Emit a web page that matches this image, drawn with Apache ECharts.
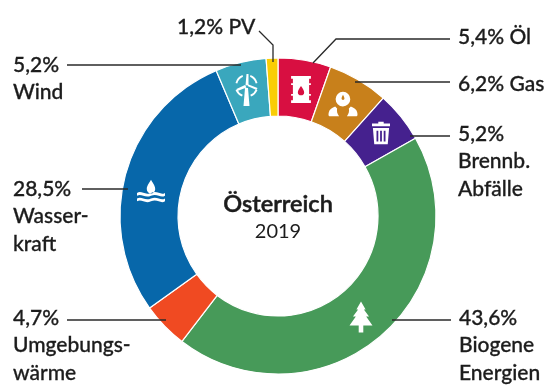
<!DOCTYPE html>
<html>
<head>
<meta charset="utf-8">
<style>html,body{margin:0;padding:0;background:#fff}#c{width:550px;height:385px}</style>
<script src="https://cdn.jsdelivr.net/npm/echarts@6/dist/echarts.min.js"></script>
</head>
<body>
<div id="c"></div>
<script>
// Energy sources, clockwise from twelve o'clock
const categories = ['Öl', 'Gas', 'Brennb. Abfälle', 'Biogene Energien', 'Umgebungswärme', 'Wasserkraft', 'Wind', 'PV'];
const shares = [5.4, 6.2, 5.2, 43.6, 4.7, 28.5, 5.2, 1.2];
const shareLabels = ['5,4%', '6,2%', '5,2%', '43,6%', '4,7%', '28,5%', '5,2%', '1,2%'];
const sliceColors = ['#d80f41', '#c8801b', '#45218e', '#479a59', '#f04a22', '#0767aa', '#3aa7bd', '#f9cd05'];

const cx = 278, cy = 216, outerR = 158, innerR = 100;
const font = 'Lato, "Open Sans", sans-serif';
const ink = '#1c1c1c';

// Callout placement: text lines and leader polyline per category index
const callouts = [
  { x: 177, y: 27, lines: [shareLabels[7] + ' PV'], leader: [[259, 31], [273, 45], [273, 62]] },
  { x: 458, y: 37, lines: [shareLabels[0] + ' Öl'], leader: [[450, 39], [336, 39], [313, 63]] },
  { x: 458, y: 84, lines: [shareLabels[1] + ' Gas'], leader: [[450, 82], [355, 82]] },
  { x: 458, y: 134, lines: [shareLabels[2], 'Brennb.', 'Abfälle'], leader: [[450, 136], [410, 136]] },
  { x: 459, y: 318, lines: [shareLabels[3], 'Biogene', 'Energien'], leader: [[451, 320], [392, 320]] },
  { x: 13, y: 318, lines: [shareLabels[4], 'Umgebungs-', 'wärme'], leader: [[67, 320], [166, 320]] },
  { x: 13, y: 189, lines: [shareLabels[5], 'Wasser-', 'kraft'], leader: [[82, 189], [128, 189]] },
  { x: 13, y: 65, lines: [shareLabels[6], 'Wind'], leader: [[67, 65], [241, 65]] }
];

const lineGap = 27.5;
const graphics = [];

callouts.forEach(c => {
  graphics.push({
    type: 'polyline', z: 20, silent: true,
    shape: { points: c.leader },
    style: { stroke: '#2a2a2a', lineWidth: 1.3, fill: 'none' }
  });
  c.lines.forEach((t, n) => graphics.push({
    type: 'text', z: 20, silent: true, x: c.x, y: c.y + n * lineGap,
    style: { text: t, fill: ink, font: '500 21px ' + font, verticalAlign: 'middle', stroke: ink, lineWidth: 0.3 }
  }));
});

// Centre caption
graphics.push(
  { type: 'text', z: 20, x: cx, y: 204, style: { text: 'Österreich', fill: ink, font: '600 23.5px ' + font, align: 'center', verticalAlign: 'middle', stroke: ink, lineWidth: 0.5 } },
  { type: 'text', z: 20, x: cx, y: 232, style: { text: '2019', fill: ink, font: '400 20px ' + font, align: 'center', verticalAlign: 'middle' } }
);

// White pictograms on the ring, drawn by a coordinate-free custom series
const barrel = 'M1 0H23V3H21V8H23V10H21V20H23V22H21V27H23V30H1V27H3V22H1V20H3V10H1V8H3V3H1ZM12 11C10 14 8.5 16 8.5 18A3.5 3.5 0 0 0 15.5 18C15.5 16 14 14 12 11Z';
const person = 'M15 0A7.5 7.5 0 1 1 14.9 0ZM15 3C14 5 13.5 6 13.5 7A1.5 1.5 0 0 0 16.5 7C16.5 6 16 5 15 3ZM7 15L9 17C8.5 20 9 22 11 25H1C0 25 0 23 0.5 21C1 18 4 16 7 15ZM23 15L21 17C21.5 20 21 22 19 25H29C30 25 30 23 29.5 21C29 18 26 16 23 15Z';
const trash = 'M8 0H14V2H21V5H1V2H8ZM2 7H20L18.5 25H3.5ZM6 10V22H8V10ZM10 10V22H12V10ZM14 10V22H16V10Z';
const tree = 'M10 0L14 7H12.5L17 13H14.5L20 21H12V27H8V21H0L5.5 13H3L7.5 7H6Z';
const water = 'M15 0C12 5 10.5 7 10.5 10A4.5 4.5 0 0 0 19.5 10C19.5 7 18 5 15 0ZM0 14C5 11 8 17 15 14C22 11 25 17 30 14V17C25 20 22 14 15 17C8 20 5 14 0 17ZM0 20C5 17 8 23 15 20C22 17 25 23 30 20V23C25 26 22 20 15 23C8 26 5 20 0 23Z';
const turbine = 'M10.5 11L2 15L3 17L12 13.5ZM11 11.5L12 0H14L14 11ZM13 12L14 10.5L23 14L22 16ZM10.5 14H13.5L15 32H9Z'
  + 'M1 9A11.5 11.5 0 0 1 8 1L8.5 2.8A10 10 0 0 0 2.8 9.5Z'
  + 'M16 1A11.5 11.5 0 0 1 23 9L21.2 9.5A10 10 0 0 0 15.5 2.8Z'
  + 'M1 16A11.5 11.5 0 0 0 7.5 22.5L8.2 20.8A10 10 0 0 1 2.8 15.4Z'
  + 'M23 16A11.5 11.5 0 0 1 16.5 22.5L15.8 20.8A10 10 0 0 0 21.2 15.4Z';
const icons = [
  { path: turbine, x: 246.5, y: 90, w: 23, h: 32 },
  { path: barrel, x: 301, y: 89.5, w: 20, h: 27 },
  { path: person, x: 343, y: 104, w: 29, h: 26 },
  { path: trash, x: 381, y: 133, w: 18, h: 24 },
  { path: tree, x: 361, y: 317, w: 23, h: 31 },
  { path: water, x: 151, y: 191, w: 28, h: 28 }
];

const chart = echarts.init(document.getElementById('c'), null, { renderer: 'canvas' });
chart.setOption({
  animation: false,
  backgroundColor: '#fff',
  series: [{
    type: 'pie',
    center: [cx, cy],
    radius: [innerR, outerR],
    startAngle: 90,
    clockwise: true,
    silent: true,
    label: { show: false },
    labelLine: { show: false },
    itemStyle: { borderColor: '#fff', borderWidth: 1.2 },
    data: categories.map((name, k) => ({
      name, value: shares[k], itemStyle: { color: sliceColors[k] }
    }))
  }, {
    type: 'custom',
    coordinateSystem: 'none',
    silent: true,
    z: 5,
    data: icons.map((_, k) => [k]),
    renderItem: (params) => {
      const ic = icons[params.dataIndex];
      return {
        type: 'path',
        shape: { pathData: ic.path, layout: 'center', x: ic.x - ic.w / 2, y: ic.y - ic.h / 2, width: ic.w, height: ic.h },
        style: { fill: '#fff' }
      };
    }
  }],
  graphic: graphics
});
</script>
</body>
</html>
